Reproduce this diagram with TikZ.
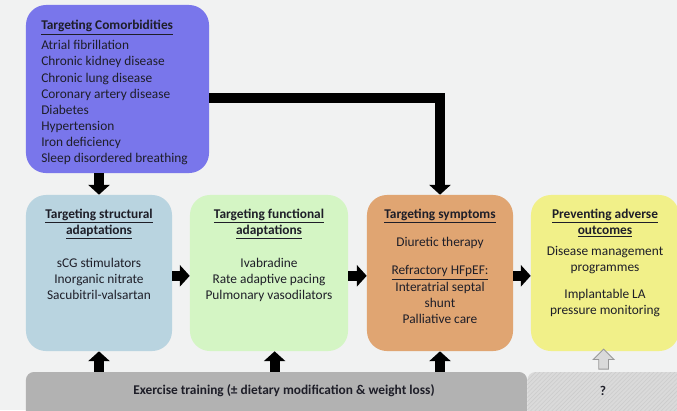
\documentclass[tikz,border=0pt]{standalone}
\usepackage{fontspec}
\setmainfont{Carlito}
\usetikzlibrary{positioning,arrows.meta,shapes.arrows,patterns}

\definecolor{bgcol}{RGB}{241,242,242}
\definecolor{comocol}{RGB}{121,118,235}
\definecolor{structcol}{RGB}{185,212,224}
\definecolor{funccol}{RGB}{212,245,196}
\definecolor{sympcol}{RGB}{224,165,114}
\definecolor{prevcol}{RGB}{241,240,137}
\definecolor{barcol}{RGB}{178,178,178}
\definecolor{hatchcol}{RGB}{218,218,218}
\definecolor{txtcol}{RGB}{30,30,40}

\tikzset{
  box/.style={rounded corners=0.5cm, inner sep=0pt, minimum height=3.9cm},
  txt/.style={inner sep=0pt, text=txtcol, font=\fontsize{9.5}{11.5}\selectfont, align=center},
  bigarrow/.style={line width=7pt, -{Triangle[width=15pt,length=7pt]}},
  greyarrow/.style={single arrow, draw=gray!80, fill=hatchcol, line width=0.6pt,
    shape border rotate=90, inner sep=0.11cm, single arrow head extend=0.14cm,
    minimum height=0.5cm, single arrow head indent=0pt},
}

\begin{document}
\begin{tikzpicture}[x=0.025cm,y=-0.025cm]

\useasboundingbox[fill=bgcol] (0,0) rectangle (677,410);

\node [box, fill=comocol, minimum width=4.575cm, minimum height=4.2cm] (como) at (117.5,89) {};
\node [box, fill=structcol, minimum width=3.65cm] (struct) at (99,273) {};
\node [box, fill=funccol, minimum width=3.95cm] (func) at (269,273) {};
\node [box, fill=sympcol, minimum width=3.65cm] (symp) at (440,273) {};
\node [box, fill=prevcol, minimum width=3.7cm] (prev) at (605,273) {};

\node [rounded corners=0.2cm, fill=barcol, minimum width=12.525cm, minimum height=1.2cm, inner sep=0pt] (bar) at (276.5,396) {};
\node [rounded corners=0.2cm, preaction={fill=hatchcol}, pattern=north east lines, pattern color=gray!40!white, minimum width=3.95cm, minimum height=1.2cm, inner sep=0pt] (hatch) at (606.5,396) {};

\node [txt, align=left, anchor=north west] (comotxt) at (41,20) {\underline{\textbf{Targeting Comorbidities}}\\[2.8pt]
Atrial fibrillation\\ Chronic kidney disease\\ Chronic lung disease\\ Coronary artery disease\\
Diabetes\\ Hypertension\\ Iron deficiency\\ Sleep disordered breathing};

\node [txt, below=10pt of struct.north] (structtxt) {\underline{\textbf{Targeting structural}}\\ \underline{\textbf{adaptations}}\\[11.8pt]
sCG stimulators\\ Inorganic nitrate\\ Sacubitril-valsartan};

\node [txt, below=10pt of func.north] (functxt) {\underline{\textbf{Targeting functional}}\\ \underline{\textbf{adaptations}}\\[11.8pt]
Ivabradine\\ Rate adaptive pacing\\ Pulmonary vasodilators};

\node [txt, below=10pt of symp.north] (symptxt) {\underline{\textbf{Targeting symptoms}}\\[8.8pt]
Diuretic therapy\\[8.3pt] \underline{Refractory HFpEF:}\\ Interatrial septal\\ shunt\\ Palliative care};

\node [txt, below=10pt of prev.north] (prevtxt) {\underline{\textbf{Preventing adverse}}\\ \underline{\textbf{outcomes}}\\[3.3pt]
Disease management\\ programmes\\[7.8pt] Implantable LA\\ pressure monitoring};

\node [txt, font=\fontsize{9.5}{11.5}\selectfont\bfseries] (bartxt) at (284,391) {Exercise training (± dietary modification \& weight loss)};
\node [txt, font=\fontsize{9.5}{11.5}\selectfont\bfseries] (qtxt) at (603,391) {?};

\draw [bigarrow] (struct.north |- como.south) -- (struct.north);
\draw [bigarrow, line join=miter] ([yshift=-6.5pt]como.east) -| (symp.north);

\draw [bigarrow] ([yshift=-2pt]struct.east) -- ([yshift=-2pt]func.west);
\draw [bigarrow] ([yshift=-2pt]func.east) -- ([yshift=-2pt]symp.west);
\draw [bigarrow] ([yshift=-2pt]symp.east) -- ([yshift=-2pt]prev.west);

\draw [bigarrow] (struct.south |- bar.north) -- (struct.south);
\draw [bigarrow] ([xshift=4pt]func.south |- bar.north) -- ([xshift=4pt]func.south);
\draw [bigarrow] (symp.south |- bar.north) -- (symp.south);
\path ([xshift=-1pt]prev.south |- hatch.north) -- node[greyarrow] (qarrow) {} ([xshift=-1pt]prev.south);

\end{tikzpicture}
\end{document}
